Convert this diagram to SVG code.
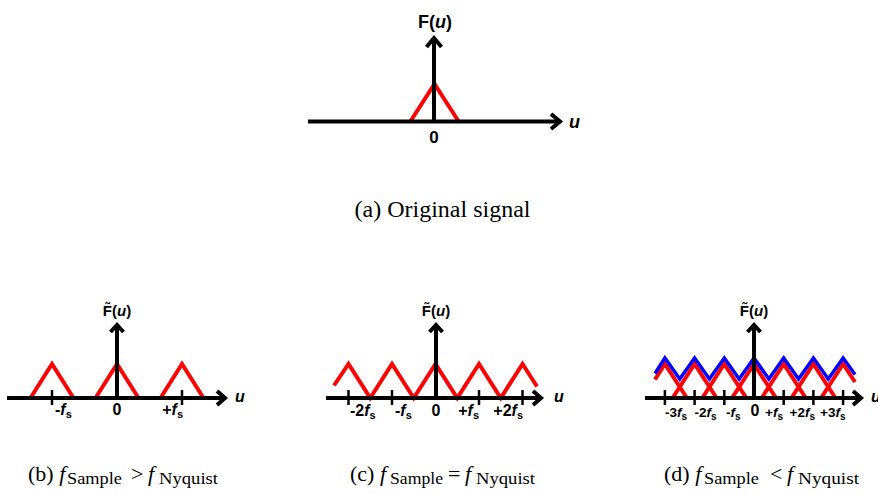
<svg xmlns="http://www.w3.org/2000/svg" width="878" height="495" viewBox="0 0 878 495">
<style>
.ax{stroke:#000;stroke-width:4;fill:none}
.arr{stroke:#000;stroke-width:4;fill:none;stroke-linejoin:miter;stroke-miterlimit:10}
.red{stroke:#f00;stroke-width:4;fill:none;stroke-linejoin:miter}
.blue{stroke:#00f;stroke-width:3.5;fill:none;stroke-linejoin:miter}
.tick{stroke:#000;stroke-width:2.5}
.lbl{font-family:"Liberation Sans",Arial,sans-serif;font-weight:bold;font-size:16px;fill:#000}
.sm{font-family:"Liberation Sans",Arial,sans-serif;font-weight:bold;font-size:13.5px;fill:#000}
.it{font-style:italic}
.cap{font-family:"Liberation Serif","Times New Roman",serif;font-size:22px;fill:#000}
.sub{font-family:"Liberation Serif","Times New Roman",serif;font-size:16px;fill:#000}
</style>
<rect width="878" height="495" fill="#fff"/>

<g id="panel-a">
  <polyline class="red" points="410,122 434.5,84 459,122"/>
  <line class="ax" x1="308" y1="121.5" x2="559" y2="121.5"/>
  <line class="ax" x1="434" y1="121.5" x2="434" y2="38"/>
  <path class="arr" d="M551,114 L560,121.5 L551,129"/>
  <path class="arr" d="M426.5,47 L434,38 L441.5,47"/>
  <text class="lbl" x="435" y="28" text-anchor="middle" style="font-size:18px">F(<tspan class="it">u</tspan>)</text>
  <text class="lbl" x="434" y="143" text-anchor="middle" style="font-size:17px">0</text>
  <text class="lbl it" x="569" y="128" style="font-size:18px">u</text>
  <text class="cap" x="442.5" y="217" text-anchor="middle" style="font-size:24px">(a) Original signal</text>
</g>

<g id="panel-b">
  <polyline class="red" points="30.5,398 52,364 73.5,398"/>
  <polyline class="red" points="95.5,398 117,364 138.5,398"/>
  <polyline class="red" points="160.5,398 182,364 203.5,398"/>
  <line class="ax" x1="7" y1="398" x2="224" y2="398"/>
  <line class="ax" x1="117" y1="398" x2="117" y2="325"/>
  <path class="arr" d="M217,391 L225,398 L217,405"/>
  <path class="arr" d="M110.5,332 L117,325 L123.5,332"/>
  <line class="tick" x1="52" y1="390" x2="52" y2="405"/>
  <line class="tick" x1="182" y1="390" x2="182" y2="405"/>
  <text class="lbl" x="117" y="316" text-anchor="middle" style="font-size:15px">F&#x303;(<tspan class="it">u</tspan>)</text>
  <text class="lbl" x="55" y="415">-<tspan class="it">f</tspan><tspan dy="3" style="font-size:11px">s</tspan></text>
  <text class="lbl" x="117" y="415" text-anchor="middle">0</text>
  <text class="lbl" x="183" y="415" text-anchor="end">+<tspan class="it">f</tspan><tspan dy="3" style="font-size:11px">s</tspan></text>
  <text class="lbl it" x="235" y="402">u</text>
  <text class="cap" x="28" y="481">(b) <tspan class="it">f</tspan></text>
  <text class="sub" x="67" y="484" textLength="55" lengthAdjust="spacingAndGlyphs">Sample</text>
  <text class="cap" x="131" y="481">&gt;</text>
  <text class="cap it" x="148" y="481">f</text>
  <text class="sub" x="159" y="484" textLength="59" lengthAdjust="spacingAndGlyphs">Nyquist</text>
</g>

<g id="panel-c">
  <polyline class="red" points="334,385.5 348.5,364 370.25,398 392,364 413.75,398 435.5,364 457.25,398 479,364 500.75,398 522.5,364 537,386.5"/>
  <line class="ax" x1="326" y1="398" x2="540" y2="398"/>
  <line class="ax" x1="436" y1="398" x2="436" y2="325"/>
  <path class="arr" d="M533,391 L541,398 L533,405"/>
  <path class="arr" d="M429.5,332 L436,325 L442.5,332"/>
  <line class="tick" x1="348.5" y1="390" x2="348.5" y2="405"/>
  <line class="tick" x1="392" y1="390" x2="392" y2="405"/>
  <line class="tick" x1="479" y1="390" x2="479" y2="405"/>
  <line class="tick" x1="522.5" y1="390" x2="522.5" y2="405"/>
  <text class="lbl" x="436" y="316" text-anchor="middle" style="font-size:15px">F&#x303;(<tspan class="it">u</tspan>)</text>
  <text class="lbl" x="350" y="416">-2<tspan class="it">f</tspan><tspan dy="3" style="font-size:11px">s</tspan></text>
  <text class="lbl" x="395" y="416">-<tspan class="it">f</tspan><tspan dy="3" style="font-size:11px">s</tspan></text>
  <text class="lbl" x="436" y="416" text-anchor="middle">0</text>
  <text class="lbl" x="479" y="416" text-anchor="end">+<tspan class="it">f</tspan><tspan dy="3" style="font-size:11px">s</tspan></text>
  <text class="lbl" x="523" y="416" text-anchor="end">+2<tspan class="it">f</tspan><tspan dy="3" style="font-size:11px">s</tspan></text>
  <text class="lbl it" x="554" y="402">u</text>
  <text class="cap" x="350" y="481">(c) <tspan class="it">f</tspan></text>
  <text class="sub" x="390" y="484" textLength="53" lengthAdjust="spacingAndGlyphs">Sample</text>
  <text class="cap" x="448" y="481">=</text>
  <text class="cap it" x="465" y="481">f</text>
  <text class="sub" x="476" y="484" textLength="59" lengthAdjust="spacingAndGlyphs">Nyquist</text>
</g>

<g id="panel-d">
  <polyline class="red" points="655,379.5 664.9,364 686.9,398"/>
  <polyline class="red" points="672.6,398 694.6,364 716.6,398"/>
  <polyline class="red" points="702.3,398 724.3,364 746.3,398"/>
  <polyline class="red" points="732,398 754,364 776,398"/>
  <polyline class="red" points="761.7,398 783.7,364 805.7,398"/>
  <polyline class="red" points="791.4,398 813.4,364 835.4,398"/>
  <polyline class="red" points="821.1,398 843.1,364 855,382"/>
  <polyline class="blue" points="655,373.5 664.9,358 679.75,379 694.6,358 709.45,379 724.3,358 739.15,379 754,358 768.85,379 783.7,358 798.55,379 813.4,358 828.25,379 843.1,358 855,374.5"/>
  <line class="ax" x1="645" y1="398" x2="860" y2="398"/>
  <line class="ax" x1="754" y1="398" x2="754" y2="325"/>
  <path class="arr" d="M853,391 L861,398 L853,405"/>
  <path class="arr" d="M747.5,332 L754,325 L760.5,332"/>
  <line class="tick" x1="664.9" y1="390" x2="664.9" y2="405"/>
  <line class="tick" x1="694.6" y1="390" x2="694.6" y2="405"/>
  <line class="tick" x1="724.3" y1="390" x2="724.3" y2="405"/>
  <line class="tick" x1="783.7" y1="390" x2="783.7" y2="405"/>
  <line class="tick" x1="813.4" y1="390" x2="813.4" y2="405"/>
  <line class="tick" x1="843.1" y1="390" x2="843.1" y2="405"/>
  <text class="lbl" x="754" y="316" text-anchor="middle" style="font-size:15px">F&#x303;(<tspan class="it">u</tspan>)</text>
  <text class="sm" x="665" y="417">-3<tspan class="it">f</tspan><tspan dy="2.5" style="font-size:10px">s</tspan></text>
  <text class="sm" x="694.5" y="417">-2<tspan class="it">f</tspan><tspan dy="2.5" style="font-size:10px">s</tspan></text>
  <text class="sm" x="726" y="417">-<tspan class="it">f</tspan><tspan dy="2.5" style="font-size:10px">s</tspan></text>
  <text class="lbl" x="755" y="416" text-anchor="middle">0</text>
  <text class="sm" x="783" y="417" text-anchor="end">+<tspan class="it">f</tspan><tspan dy="2.5" style="font-size:10px">s</tspan></text>
  <text class="sm" x="815" y="417" text-anchor="end">+2<tspan class="it">f</tspan><tspan dy="2.5" style="font-size:10px">s</tspan></text>
  <text class="sm" x="845.5" y="417" text-anchor="end">+3<tspan class="it">f</tspan><tspan dy="2.5" style="font-size:10px">s</tspan></text>
  <text class="lbl it" x="871" y="402">u</text>
  <text class="cap" x="664" y="481">(d) <tspan class="it">f</tspan></text>
  <text class="sub" x="704" y="484" textLength="55" lengthAdjust="spacingAndGlyphs">Sample</text>
  <text class="cap" x="770" y="481">&lt;</text>
  <text class="cap it" x="787" y="481">f</text>
  <text class="sub" x="798" y="484" textLength="61" lengthAdjust="spacingAndGlyphs">Nyquist</text>
</g>
</svg>
